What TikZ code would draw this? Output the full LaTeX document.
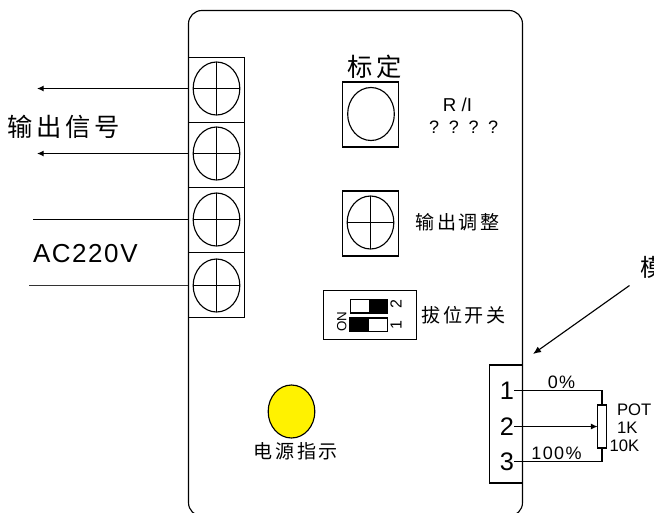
\documentclass[tikz,border=0pt]{standalone}
\usepackage{fontspec}
\setmainfont{Liberation Sans}
\newfontfamily\cjk[LetterSpace=14]{Noto Sans CJK SC}
\usetikzlibrary{calc}
\usetikzlibrary{arrows.meta}
\usetikzlibrary{shapes.geometric}

\tikzset{
    boxnode/.style={draw, minimum width=42.5pt, minimum height=48.75pt, inner sep=0, outer sep=0},
    screwnode/.style={draw, ellipse, minimum width=35pt, minimum height=39.75pt, inner sep=0, outer sep=0},
    label/.style={inner sep=0, outer sep=0},
    tinytip/.style={-{Latex[length=5pt, width=4.5pt]}}
}

\newcommand\crossover[1]{
    \draw (#1.north) -- (#1.south);
    \draw (#1.west) -- (#1.east);
}

\begin{document}
\begin{tikzpicture}[x=.75pt, y=-.75pt, line width=.85pt]
    \useasboundingbox (0, 0) rectangle (654, 512);
    \fill[white] (0, 0) rectangle (654, 512);

    % housing
    \draw[rounded corners=10pt] (188.5, 10.5) rectangle (522.5, 516);

    % terminals
    \node[boxnode] (term-1) at (216.5, 90) {};
    \node[boxnode] (term-2) at (216.5, 155) {};
    \node[boxnode] (term-3) at (216.5, 220) {};
    \node[boxnode] (term-4) at (216.5, 285) {};
    \node[screwnode] (screw-1) at (216.5, 88.5) {};
    \node[screwnode] (screw-2) at (216.5, 153.5) {};
    \node[screwnode] (screw-3) at (216.5, 219.5) {};
    \node[screwnode] (screw-4) at (216.5, 285.5) {};
    \crossover{screw-1}
    \crossover{screw-2}
    \crossover{screw-3}
    \crossover{screw-4}

    \coordinate (out-1) at (37, 88.5);
    \coordinate (out-2) at (37, 153.5);
    \coordinate (ac-1) at (33, 219.5);
    \coordinate (ac-2) at (29, 285.5);
    \draw[tinytip] (term-1.west |- out-1) -- (out-1);
    \draw[tinytip] (term-2.west |- out-2) -- (out-2);
    \draw (term-3.west |- ac-1) -- (ac-1);
    \draw[line width=1.1pt, black!80] (term-4.west |- ac-2) -- (ac-2);

    \node[label, font=\cjk\fontsize{19}{19}\selectfont] (out-text) at (63.5, 127) {输出信号};
    \node[label, font=\fontsize{19.5}{20}\selectfont, anchor=west] (ac-text) at (33, 254) {\addfontfeature{LetterSpace=6}AC220V};

    % calibration
    \node[boxnode] (cal-box) at (370.5, 114.5) {};
    \node[screwnode] (cal-screw) at (371, 114) {};
    \node[label, font=\cjk\fontsize{19}{19}\selectfont] (cal-text) at (374.5, 67) {标定};
    \node[label, font=\fontsize{14}{14}\selectfont] (ri-text) at (457.5, 105) {R /I};
    \node[label, font=\fontsize{13.5}{14}\selectfont] (qm-text) at (463.7, 127) {? \,? \,? \,?};

    % adjust
    \node[boxnode] (adj-box) at (370.5, 223.5) {};
    \node[screwnode] (adj-screw) at (370.5, 222.5) {};
    \crossover{adj-screw}
    \node[label, font=\cjk\fontsize{14.3}{15}\selectfont] (adj-text) at (457.5, 222.5) {输出调整};

    % dip switch
    \node[boxnode, minimum width=69.5pt, minimum height=37pt] (dip-box) at (369.8, 315) {};
    \draw (350.7, 299.5) rectangle (387.7, 313);
    \fill (369, 299.5) rectangle (387.7, 313);
    \draw (350, 318) rectangle (387.7, 331.5);
    \fill (350, 318) rectangle (369.3, 331.5);
    \node[label, font=\fontsize{12}{12}\selectfont, rotate=90] (dip-2) at (396, 304) {2};
    \node[label, font=\fontsize{12}{12}\selectfont, rotate=90] (dip-1) at (396, 325) {1};
    \node[label, font=\fontsize{10}{10}\selectfont, rotate=90] (dip-on) at (341.7, 321.7) {ON};
    \node[label, font=\cjk\fontsize{14.3}{15}\selectfont] (dip-text) at (463.5, 315.5) {拔位开关};

    % power lamp
    \node[screwnode, fill=yellow] (lamp) at (291.5, 411.5) {};
    \node[label, font=\cjk\fontsize{14.3}{15}\selectfont] (lamp-text) at (295.7, 451.5) {电源指示};

    % module
    \node[label, font=\cjk\fontsize{18}{18}\selectfont, anchor=west] (mod-text) at (640, 267) {模};
    \coordinate (mod-from) at (629.5, 285.5);
    \coordinate (mod-to) at (533, 354);
    \draw[-{Latex[length=6pt, width=5pt]}] (mod-from) -- (mod-to);

    % connector and pot
    \node[boxnode, minimum width=24.6pt, minimum height=88.5pt] (conn) at (506, 424) {};
    \node[label, font=\fontsize{19}{19}\selectfont] (pin-1) at (507, 391) {1};
    \node[label, font=\fontsize{19}{19}\selectfont] (pin-2) at (507, 426.5) {2};
    \node[label, font=\fontsize{19}{19}\selectfont] (pin-3) at (507, 461.5) {3};
    \node[boxnode, minimum width=6.6pt, minimum height=32.3pt, fill=white] (pot) at (602, 426.5) {};

    \draw (pin-1.east |- 0, 390.5) -- (602, 390.5) -- (pot.north);
    \draw[tinytip] (pin-2.east) -- (pot.west);
    \draw (pin-3.east) -- (602, 461.5) -- (pot.south);

    \node[label, font=\fontsize{13.5}{14}\selectfont] (zero-text) at (561.5, 382) {\addfontfeature{LetterSpace=8}0\%};
    \node[label, font=\fontsize{13.5}{14}\selectfont] (full-text) at (556.5, 453) {\addfontfeature{LetterSpace=8}100\%};
    \node[label, font=\fontsize{12.5}{13}\selectfont, anchor=west] (pot-name) at (617, 410) {POT};
    \node[label, font=\fontsize{12.5}{13}\selectfont, anchor=west] (pot-1k) at (617, 428) {1K};
    \node[label, font=\fontsize{12.5}{13}\selectfont, anchor=west] (pot-10k) at (609.5, 446) {10K};
\end{tikzpicture}
\end{document}
